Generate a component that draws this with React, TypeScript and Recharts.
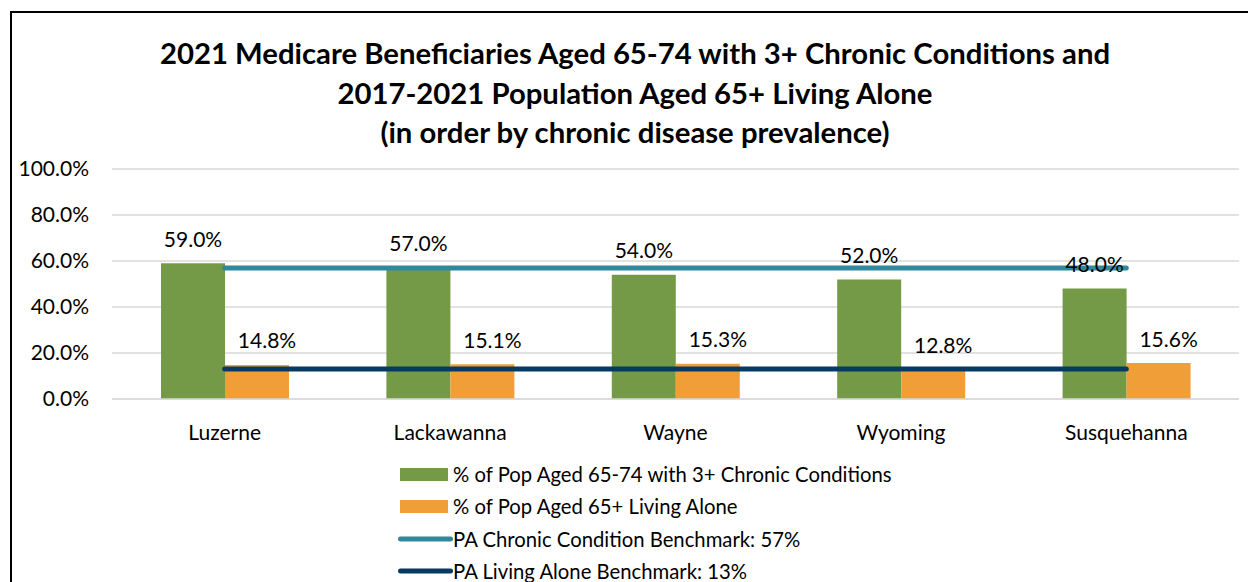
import React from 'react';
import { ComposedChart, Bar, Line, XAxis, YAxis, CartesianGrid, LabelList } from 'recharts';

const counties = ['Luzerne', 'Lackawanna', 'Wayne', 'Wyoming', 'Susquehanna'];
const chronicPct = [59.0, 57.0, 54.0, 52.0, 48.0];
const alonePct = [14.8, 15.1, 15.3, 12.8, 15.6];
const chronicBenchmark = [57, 57, 57, 57, 57];
const aloneBenchmark = [13, 13, 13, 13, 13];
const yTicks = [0, 20, 40, 60, 80, 100];
const titleLines = [
  '2021 Medicare Beneficiaries Aged 65-74 with 3+ Chronic Conditions and',
  '2017-2021 Population Aged 65+ Living Alone',
  '(in order by chronic disease prevalence)',
];
const seriesNames = [
  '% of Pop Aged 65-74 with 3+ Chronic Conditions',
  '% of Pop Aged 65+ Living Alone',
  'PA Chronic Condition Benchmark: 57%',
  'PA Living Alone Benchmark: 13%',
];

const COLORS = {
  chronic: '#749A47',
  alone: '#F09E37',
  chronicBench: '#31879C',
  aloneBench: '#053A63',
};

const data = counties.map((c, i) => ({
  county: c,
  chronic: chronicPct[i],
  alone: alonePct[i],
  chronicBench: chronicBenchmark[i],
  aloneBench: aloneBenchmark[i],
}));

const FONT = 'Lato, "Open Sans", sans-serif';

const makeLabel = (dx: number) => (props: any) => {
  const { x, y, width, value } = props;
  return (
    <text
      x={Number(x) + Number(width) / 2 + dx}
      y={Number(y) - 25}
      textAnchor="middle"
      dominantBaseline="central"
      fontFamily={FONT}
      fontSize={21}
      fill="#000"
    >
      {Number(value).toFixed(1)}%
    </text>
  );
};

const legendItems = [
  { name: seriesNames[0], color: COLORS.chronic, kind: 'rect' },
  { name: seriesNames[1], color: COLORS.alone, kind: 'rect' },
  { name: seriesNames[2], color: COLORS.chronicBench, kind: 'line' },
  { name: seriesNames[3], color: COLORS.aloneBench, kind: 'line' },
];

const titleYs = [52, 92, 131];

export default function App() {
  return (
    <div
      style={{
        position: 'absolute',
        left: 0,
        top: 0,
        width: 1248,
        height: 582,
        overflow: 'hidden',
        background: '#fff',
        fontFamily: FONT,
      }}
    >
      <div
        style={{
          position: 'absolute',
          left: 10,
          top: 11,
          width: 1400,
          height: 800,
          border: '2px solid #000',
        }}
      />
      <div style={{ position: 'absolute', left: 0, top: 0 }}>
        <ComposedChart
          width={1248}
          height={582}
          data={data}
          margin={{ top: 169, right: 9, left: 0, bottom: 153 }}
          barGap={0}
        >
          {titleLines.map((t, i) => (
            <text
              key={i}
              x={635}
              y={titleYs[i]}
              textAnchor="middle"
              dominantBaseline="central"
              fontFamily={FONT}
              fontWeight={700}
              fontSize={29.3}
              fill="#000"
            >
              {t}
            </text>
          ))}
          <CartesianGrid vertical={false} stroke="#D9D9D9" strokeWidth={1.5} />
          <XAxis
            dataKey="county"
            height={30}
            axisLine={{ stroke: '#D9D9D9', strokeWidth: 1.5 }}
            tickLine={false}
            tickSize={0}
            tickMargin={26}
            tick={{ fontFamily: FONT, fontSize: 21, fill: '#000' }}
            interval={0}
          />
          <YAxis
            width={112}
            domain={[0, 100]}
            ticks={yTicks}
            axisLine={false}
            tickLine={false}
            tickSize={0}
            tickMargin={23}
            tickFormatter={(v: number) => `${v.toFixed(1)}%`}
            tick={{ fontFamily: FONT, fontSize: 21, fill: '#000' }}
            interval={0}
          />
          <Bar dataKey="chronic" fill={COLORS.chronic} barSize={64} isAnimationActive={false}>
            <LabelList dataKey="chronic" content={makeLabel(0)} />
          </Bar>
          <Bar dataKey="alone" fill={COLORS.alone} barSize={64} isAnimationActive={false}>
            <LabelList dataKey="alone" content={makeLabel(10)} />
          </Bar>
          <Line
            dataKey="chronicBench"
            stroke={COLORS.chronicBench}
            strokeWidth={5}
            strokeLinecap="round"
            dot={false}
            activeDot={false}
            isAnimationActive={false}
          />
          <Line
            dataKey="aloneBench"
            stroke={COLORS.aloneBench}
            strokeWidth={5}
            strokeLinecap="round"
            dot={false}
            activeDot={false}
            isAnimationActive={false}
          />
        </ComposedChart>
      </div>
      <div style={{ position: 'absolute', left: 398, top: 458 }}>
        {legendItems.map((it, i) => (
          <div
            key={i}
            style={{
              position: 'absolute',
              left: 0,
              top: i * 32.4,
              height: 32,
              display: 'flex',
              alignItems: 'center',
              whiteSpace: 'nowrap',
            }}
          >
            <svg width={55} height={32} style={{ display: 'block' }}>
              {it.kind === 'rect' ? (
                <rect x={2} y={10} width={48} height={13} fill={it.color} />
              ) : (
                <line
                  x1={2.5}
                  y1={16}
                  x2={52.5}
                  y2={16}
                  stroke={it.color}
                  strokeWidth={5}
                  strokeLinecap="round"
                />
              )}
            </svg>
            <span style={{ fontSize: 20.3, color: '#000', fontFamily: FONT, lineHeight: '32px' }}>
              {it.name}
            </span>
          </div>
        ))}
      </div>
    </div>
  );
}
